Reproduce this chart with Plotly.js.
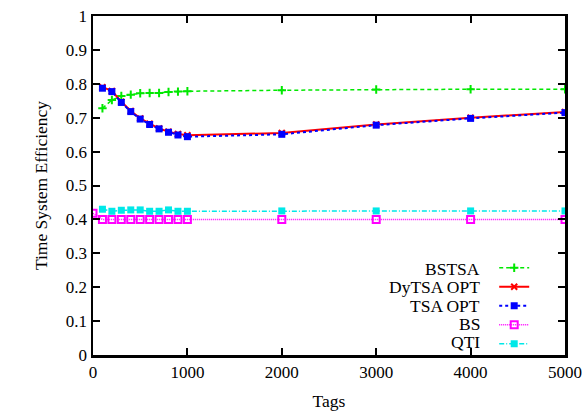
<!DOCTYPE html>
<html>
<head>
<meta charset="utf-8">
<script src="https://cdn.plot.ly/plotly-3.0.1.min.js"></script>
<style>html,body{margin:0;padding:0;background:#fff;}#chart{width:585px;height:411px;}</style>
</head>
<body>
<div id="chart"></div>
<script>
// ---- data ----
const tags = [100, 200, 300, 400, 500, 600, 700, 800, 900, 1000, 2000, 3000, 4000, 5000];
const tagsBS = [0, 100, 200, 300, 400, 500, 600, 700, 800, 900, 1000, 2000, 3000, 4000, 5000];
const bstsa = [0.728, 0.752, 0.764, 0.768, 0.772, 0.773, 0.773, 0.776, 0.777, 0.778, 0.781, 0.783, 0.784, 0.784];
const dytsaOpt = [0.790, 0.779, 0.747, 0.720, 0.698, 0.682, 0.668, 0.659, 0.652, 0.648, 0.655, 0.680, 0.700, 0.717];
const tsaOpt = [0.787, 0.777, 0.745, 0.718, 0.696, 0.680, 0.667, 0.657, 0.649, 0.644, 0.651, 0.678, 0.698, 0.715];
const bs = [0.418, 0.400, 0.400, 0.400, 0.400, 0.400, 0.400, 0.400, 0.400, 0.400, 0.400, 0.400, 0.400, 0.400, 0.400];
const qti = [0.430, 0.424, 0.427, 0.428, 0.428, 0.424, 0.424, 0.428, 0.424, 0.424, 0.425, 0.425, 0.425, 0.425];
const seriesNames = ['BSTSA', 'DyTSA OPT', 'TSA OPT', 'BS', 'QTI'];
const xTitle = 'Tags';
const yTitle = 'Time System Efficiency';

const serif = 'Liberation Serif, Times New Roman, Times, serif';

const traces = [
  {x: tags, y: bstsa, mode: 'lines+markers', name: '',
   line: {color: '#00e800', width: 1.5, dash: '4px,3px'},
   marker: {symbol: 'cross-thin', size: 6, color: '#00e800', line: {color: '#00e800', width: 2}}},
  {x: tags, y: dytsaOpt, mode: 'lines+markers', name: '',
   line: {color: '#ff0000', width: 2},
   marker: {symbol: 'x-thin', size: 6, color: '#ff0000', line: {color: '#ff0000', width: 2}}},
  {x: tags, y: tsaOpt, mode: 'lines+markers', name: '',
   line: {color: '#0000ff', width: 2, dash: 'dot'},
   marker: {symbol: 'square', size: 7, color: '#0000ff'}},
  {x: tagsBS, y: bs, mode: 'lines+markers', name: '',
   line: {color: '#ff00ff', width: 1.5, dash: '1px,1px'},
   marker: {symbol: 'square-open', size: 7, color: '#ff00ff', line: {color: '#ff00ff', width: 2}}},
  {x: tags, y: qti, mode: 'lines+markers', name: '',
   line: {color: '#00e8e8', width: 1.5, dash: '5px,2px,1px,2px'},
   marker: {symbol: 'square', size: 7, color: '#00e8e8'}}
];

const legendRowsY = [0.253, 0.200, 0.146, 0.091, 0.039];
const annotations = seriesNames.map((n, i) => ({
  text: n, xref: 'paper', yref: 'paper', x: 0.8235, y: legendRowsY[i],
  xanchor: 'right', yanchor: 'middle', showarrow: false,
  font: {family: serif, size: 17.5, color: '#000'}
}));

const axisCommon = {
  showgrid: false, zeroline: false, showline: true, linecolor: '#000', linewidth: 2.5,
  mirror: 'allticks', ticks: 'inside', ticklen: 7, tickwidth: 2, tickcolor: '#000',
  tickfont: {family: serif, size: 17, color: '#000'}
};

const layout = {
  width: 585, height: 411,
  margin: {l: 93, r: 20, t: 16, b: 56},
  paper_bgcolor: '#fff', plot_bgcolor: '#fff',
  showlegend: true,
  legend: {x: 0.85, y: 0.30, xanchor: 'left', yanchor: 'top', bgcolor: 'rgba(0,0,0,0)',
           font: {family: serif, size: 10}, tracegroupgap: 0, itemwidth: 30},
  xaxis: Object.assign({}, axisCommon, {range: [0, 5000], dtick: 1000, tick0: 0,
    title: {text: xTitle, font: {family: serif, size: 17.5, color: '#000'}, standoff: 14}}),
  yaxis: Object.assign({}, axisCommon, {range: [0, 1], dtick: 0.1, tick0: 0,
    title: {text: yTitle, font: {family: serif, size: 17.5, color: '#000'}, standoff: 14}}),
  annotations: annotations
};

Plotly.newPlot('chart', traces, layout, {displayModeBar: false, staticPlot: true});
</script>
</body>
</html>
